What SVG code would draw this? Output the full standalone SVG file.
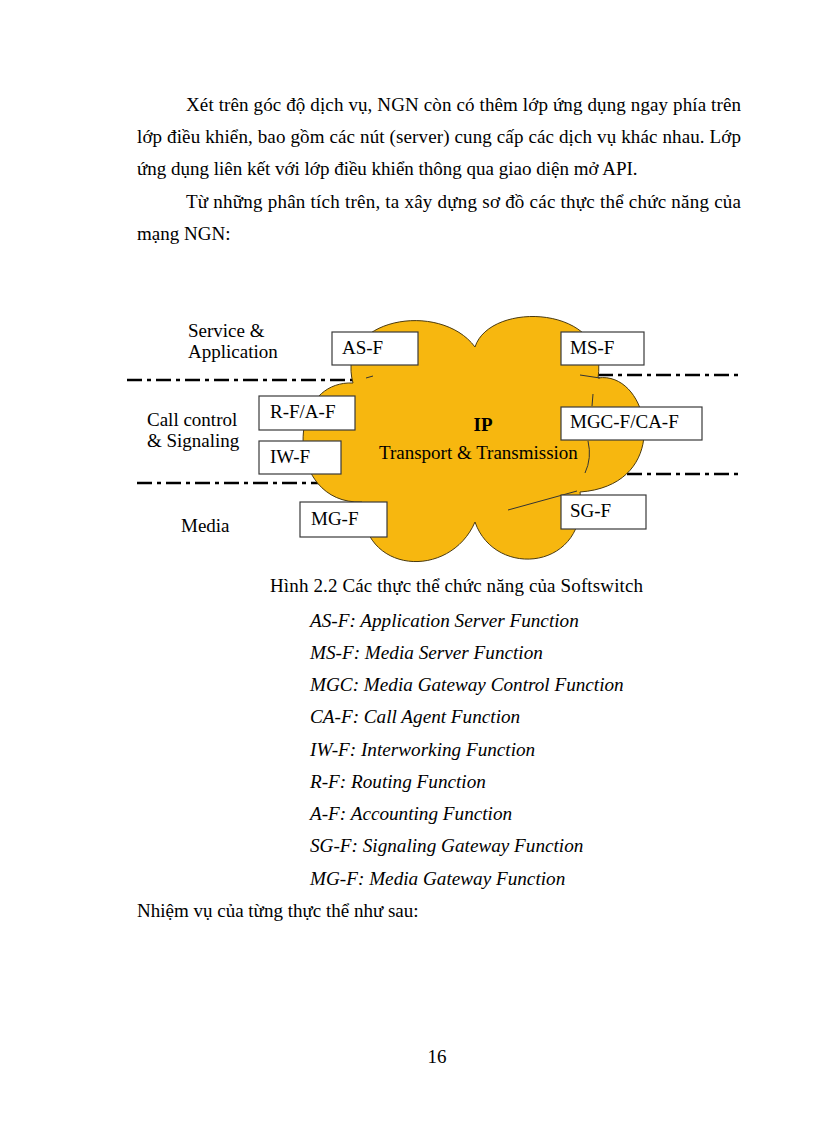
<svg xmlns="http://www.w3.org/2000/svg" width="816" height="1123" viewBox="0 0 816 1123">
<style>
.body{font-family:"Liberation Serif","Times New Roman",serif;font-size:19px;fill:#000}
.it{font-family:"Liberation Serif","Times New Roman",serif;font-size:19.2px;font-style:italic;fill:#000}
.lbl{font-family:"Liberation Serif","Times New Roman",serif;font-size:19px;fill:#000}
.box{fill:#fff;stroke:#3a3a3a;stroke-width:1.2}
.div{fill:none;stroke:#000;stroke-width:2.5;stroke-dasharray:15 5 4 5}
.frag{fill:none;stroke:#333;stroke-width:1}
</style>
<rect width="816" height="1123" fill="#fff"/>
<g id="paragraph">
<text class="body" x="186" y="111" textLength="555" lengthAdjust="spacing">Xét trên góc độ dịch vụ, NGN còn có thêm lớp ứng dụng ngay phía trên</text>
<text class="body" x="137" y="143" textLength="604" lengthAdjust="spacing">lớp điều khiển, bao gồm các nút (server) cung cấp các dịch vụ khác nhau. Lớp</text>
<text class="body" x="137" y="175">ứng dụng liên kết với lớp điều khiển thông qua giao diện mở API.</text>
<text class="body" x="186" y="208" textLength="555" lengthAdjust="spacing">Từ những phân tích trên, ta xây dựng sơ đồ các thực thể chức năng của</text>
<text class="body" x="137" y="240">mạng NGN:</text>
</g>
<g id="connectors">
<line class="div" x1="127" y1="380" x2="356" y2="380"/>
<line class="div" x1="137" y1="483" x2="330" y2="483"/>
<line class="div" x1="598" y1="375" x2="742" y2="375"/>
<line class="div" x1="627" y1="474" x2="740" y2="474"/>
</g>
<g id="cloud">
<path d="M353,383 C335,318 440,300 475,347 C490,300 610,305 598,378 C650,370 675,485 580,492 C590,570 495,580 475,522 C450,580 360,575 362,502 C285,505 285,380 353,383 Z" fill="#F7B70F" stroke="#4a3a10" stroke-width="1"/>
<path class="frag" d="M366,378 L373,376"/>
<path class="frag" d="M580,375 L600,378"/>
<path class="frag" d="M593,394 L592,406"/>
<path class="frag" d="M588,441 Q592,458 585,473"/>
<path class="frag" d="M508,510 L577,491"/>
<text x="483" y="431" text-anchor="middle" style="font-family:'Liberation Serif','Times New Roman',serif;font-size:19px;font-weight:bold">IP</text>
<text class="lbl" x="379" y="459">Transport &amp; Transmission</text>
</g>
<g id="layer-labels">
<text class="lbl" x="188" y="337">Service &amp;</text>
<text class="lbl" x="188" y="358">Application</text>
<text class="lbl" x="147" y="426">Call control</text>
<text class="lbl" x="147" y="447">&amp; Signaling</text>
<text class="lbl" x="181" y="532">Media</text>
</g>
<g id="node-asf"><rect class="box" x="332" y="332" width="86" height="33"/><text class="lbl" x="342" y="354">AS-F</text></g>
<g id="node-rfaf"><rect class="box" x="259" y="396" width="96" height="34"/><text class="lbl" x="270" y="418">R-F/A-F</text></g>
<g id="node-iwf"><rect class="box" x="259" y="441" width="82" height="33"/><text class="lbl" x="270" y="463">IW-F</text></g>
<g id="node-mgf"><rect class="box" x="300" y="502" width="87" height="35"/><text class="lbl" x="311" y="525">MG-F</text></g>
<g id="node-msf"><rect class="box" x="561" y="332" width="83" height="33"/><text class="lbl" x="570" y="354">MS-F</text></g>
<g id="node-mgcf"><rect class="box" x="561" y="407" width="141" height="33"/><text class="lbl" x="570" y="428">MGC-F/CA-F</text></g>
<g id="node-sgf"><rect class="box" x="561" y="495" width="85" height="34"/><text class="lbl" x="570" y="517">SG-F</text></g>
<g id="caption">
<text class="body" x="270" y="592" textLength="373" lengthAdjust="spacing">Hình 2.2  Các thực thể chức năng của Softswitch</text>
<text class="it" x="310" y="627">AS-F: Application Server Function</text>
<text class="it" x="310" y="659">MS-F: Media Server Function</text>
<text class="it" x="310" y="691">MGC: Media Gateway Control Function</text>
<text class="it" x="310" y="723">CA-F: Call Agent Function</text>
<text class="it" x="310" y="756">IW-F: Interworking Function</text>
<text class="it" x="310" y="788">R-F: Routing Function</text>
<text class="it" x="310" y="820">A-F: Accounting Function</text>
<text class="it" x="310" y="852">SG-F: Signaling Gateway Function</text>
<text class="it" x="310" y="885">MG-F: Media Gateway Function</text>
<text class="body" x="137" y="917">Nhiệm vụ của từng thực thể như sau:</text>
<text class="body" x="437" y="1063" text-anchor="middle">16</text>
</g>
</svg>
